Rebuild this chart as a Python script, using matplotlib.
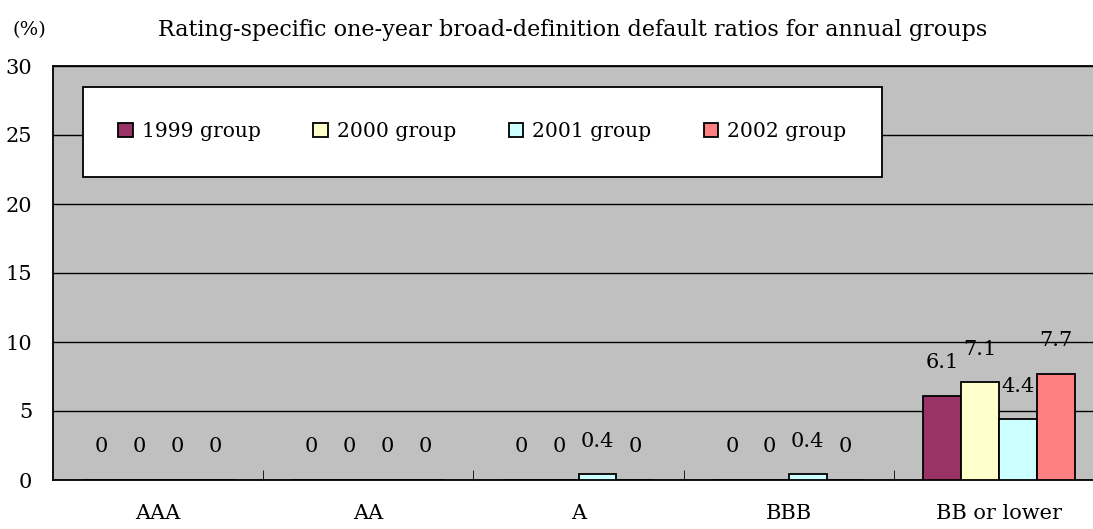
import matplotlib.pyplot as plt
import numpy as np

ratings = ["AAA", "AA", "A", "BBB", "BB or lower"]
groups = ["1999 group", "2000 group", "2001 group", "2002 group"]
ratio_1999 = [0, 0, 0, 0, 6.1]
ratio_2000 = [0, 0, 0, 0, 7.1]
ratio_2001 = [0, 0, 0.4, 0.4, 4.4]
ratio_2002 = [0, 0, 0, 0, 7.7]
colors = ["#993366", "#FFFFCC", "#CCFFFF", "#FF8080"]

plt.rcParams["font.family"] = ["DejaVu Serif"]

fig = plt.figure(figsize=(10.93, 5.29), dpi=100)
ax = fig.add_axes([53 / 1093, 49 / 529, 1051 / 1093, 414 / 529])
ax.set_facecolor("#C0C0C0")

x = np.arange(len(ratings))
width = 0.18
offsets = [-1.5, -0.5, 0.5, 1.5]
series = [ratio_1999, ratio_2000, ratio_2001, ratio_2002]

for vals, off, col, name in zip(series, offsets, colors, groups):
    bars = ax.bar(x + off * width, vals, width, color=col, edgecolor="black",
                  linewidth=1.3, label=name, zorder=3)
    for b, v in zip(bars, vals):
        ax.annotate(f"{v:g}", (b.get_x() + b.get_width() / 2, v),
                    xytext=(0, 33), textcoords="offset pixels",
                    ha="center", va="center", fontsize=15)

ax.set_ylim(0, 30)
ax.set_xlim(-0.5, 4.5)
ax.set_yticks(range(0, 31, 5))
ax.tick_params(axis="y", length=0, labelsize=15, pad=15)
ax.yaxis.grid(True, color="black", linewidth=1)
ax.set_axisbelow(True)

ax.set_xticks(x)
ax.set_xticklabels(ratings, fontsize=15)
ax.tick_params(axis="x", length=0, pad=17)
ax.set_xticks(np.arange(0.5, 4.5, 1), minor=True)
ax.tick_params(axis="x", which="minor", direction="in", length=7, color="black")

for s in ax.spines.values():
    s.set_linewidth(1.3)
    s.set_color("black")

leg = ax.legend(loc="upper left", bbox_to_anchor=(30 / 1051, 393 / 414),
                ncol=4, frameon=True, fancybox=False, edgecolor="black",
                fontsize=14.6, handlelength=0.7, handleheight=0.7,
                handletextpad=0.45, columnspacing=2.6, borderpad=1.75,
                borderaxespad=0)
leg.get_frame().set_linewidth(1.3)
leg.get_frame().set_facecolor("white")
leg.get_frame().set_alpha(1)

fig.text(12 / 1093, 1 - 30 / 529, "(%)", fontsize=14, va="center")
fig.text(573 / 1093, 1 - 30 / 529,
         "Rating-specific one-year broad-definition default ratios for annual groups",
         fontsize=16, ha="center", va="center")

fig.savefig("out.png", dpi=100)
